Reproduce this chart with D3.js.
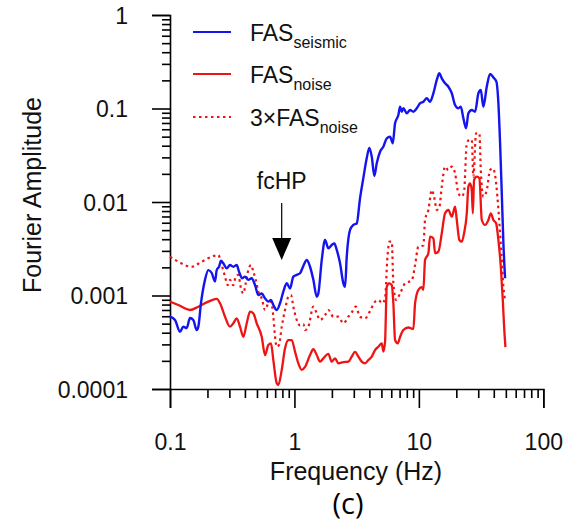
<!DOCTYPE html>
<html>
<head>
<meta charset="utf-8">
<script src="https://cdn.jsdelivr.net/npm/d3@7"></script>
<style>
  html, body { margin: 0; padding: 0; background: #fff; }
  svg { display: block; }
</style>
</head>
<body>
<svg id="chart" width="565" height="523"></svg>
<script>
// ---------- DATA (frequency Hz, Fourier amplitude) ----------
const seismic = [
  [0.1,5.93e-4],[0.1097,5.47e-4],[0.1203,4.10e-4],[0.1279,4.64e-4],[0.1362,4.49e-4],[0.1448,5.74e-4],
  [0.1539,5.47e-4],[0.1639,4.27e-4],[0.1689,4.64e-4],[0.1775,8.32e-4],[0.1911,1.47e-3],[0.2032,1.87e-3],
  [0.2164,1.74e-3],[0.2300,1.41e-3],[0.2374,1.87e-3],[0.2477,2.03e-3],[0.2570,2.36e-3],[0.2682,2.21e-3],
  [0.2856,1.95e-3],[0.3036,2.12e-3],[0.3227,2.03e-3],[0.3437,2.12e-3],[0.3586,1.80e-3],[0.3812,1.53e-3],
  [0.4007,1.59e-3],[0.4259,1.47e-3],[0.4537,1.53e-3],[0.4823,1.29e-3],[0.5126,1.01e-3],[0.5459,1.05e-3],
  [0.5803,9.33e-4],[0.6169,8.59e-4],[0.6484,8.95e-4],[0.6767,7.91e-4],[0.7205,7.00e-4],[0.7658,8.26e-4],
  [0.8142,1.10e-3],[0.8674,1.35e-3],[0.9219,1.19e-3],[0.9799,1.59e-3],[1.0435,1.66e-3],[1.109,1.73e-3],
  [1.179,2.07e-3],[1.256,2.40e-3],[1.335,2.03e-3],[1.419,1.47e-3],[1.511,9.71e-4],[1.556,1.05e-3],
  [1.658,2.40e-3],[1.762,3.92e-3],[1.873,3.20e-3],[1.994,3.47e-3],[2.093,3.61e-3],[2.188,3.07e-3],
  [2.326,2.21e-3],[2.473,1.35e-3],[2.552,1.24e-3],[2.633,2.60e-3],[2.799,5.02e-3],[2.975,5.68e-3],
  [3.169,5.92e-3],[3.368,1.10e-2],[3.580,1.81e-2],[3.813,2.96e-2],[4.001,3.78e-2],[4.183,3.05e-2],
  [4.388,1.90e-2],[4.587,2.59e-2],[4.876,3.45e-2],[5.182,3.90e-2],[5.520,4.80e-2],[5.867,4.99e-2],
  [6.168,4.25e-2],[6.437,6.95e-2],[6.842,8.52e-2],[7.061,1.045e-1],[7.286,9.24e-2],[7.506,1.005e-1],
  [7.992,8.88e-2],[8.500,9.64e-2],[9.033,9.24e-2],[9.619,1.005e-1],[10.22,1.137e-1],[10.87,1.183e-1],
  [11.57,1.286e-1],[12.30,1.183e-1],[13.08,1.455e-1],[13.93,2.02e-1],[14.62,2.38e-1],[15.28,2.10e-1],
  [16.24,1.86e-1],[17.27,1.71e-1],[18.39,1.455e-1],[19.54,1.090e-1],[20.77,1.005e-1],[21.72,1.045e-1],
  [22.79,7.85e-2],[23.96,6.14e-2],[25.00,8.88e-2],[26.62,9.64e-2],[28.30,9.24e-2],[30.09,1.455e-1],
  [31.45,1.578e-1],[32.99,1.045e-1],[35.13,1.71e-1],[37.35,2.34e-1],[39.71,2.15e-1],[41.98,1.935e-1],
  [43.56,1.137e-1],[44.95,4.25e-2],[46.38,1.24e-2],[47.79,3.61e-3],[49.31,1.53e-3]
];

const noise = [
  [0.1,8.59e-4],[0.1166,7.91e-4],[0.1448,7.00e-4],[0.1689,7.59e-4],[0.2032,8.59e-4],[0.2374,9.18e-4],
  [0.2523,8.26e-4],[0.2768,5.93e-4],[0.3036,4.64e-4],[0.3227,5.04e-4],[0.3437,5.70e-4],[0.3653,4.64e-4],
  [0.3884,3.62e-4],[0.4137,5.04e-4],[0.4397,6.71e-4],[0.4674,6.45e-4],[0.4977,5.04e-4],[0.5459,3.62e-4],
  [0.5803,2.31e-4],[0.6169,2.96e-4],[0.6484,3.08e-4],[0.6767,2.04e-4],[0.7205,1.15e-4],[0.7422,1.10e-4],
  [0.7908,1.60e-4],[0.8403,2.72e-4],[0.8933,3.34e-4],[0.9513,3.34e-4],[1.011,2.51e-4],[1.075,1.88e-4],
  [1.145,1.60e-4],[1.217,1.72e-4],[1.335,2.31e-4],[1.419,2.66e-4],[1.511,2.31e-4],[1.606,1.96e-4],
  [1.707,2.13e-4],[1.873,2.37e-4],[1.994,1.96e-4],[2.121,2.13e-4],[2.254,1.88e-4],[2.473,1.94e-4],
  [2.712,1.96e-4],[2.887,2.22e-4],[3.069,2.49e-4],[3.265,2.22e-4],[3.475,1.96e-4],[3.694,1.88e-4],
  [3.926,2.04e-4],[4.183,2.22e-4],[4.445,2.61e-4],[4.726,2.83e-4],[5.033,3.08e-4],[5.182,2.51e-4],
  [5.350,3.21e-4],[5.520,1.24e-3],[5.761,1.35e-3],[6.056,1.29e-3],[6.237,8.26e-4],[6.437,3.34e-4],
  [6.767,3.08e-4],[7.061,3.60e-4],[7.506,4.27e-4],[8.237,4.55e-4],[9.033,4.38e-4],[9.324,8.26e-4],
  [9.908,1.15e-3],[10.55,1.23e-3],[10.87,1.15e-3],[11.21,2.40e-3],[11.92,2.83e-3],[12.30,4.26e-3],
  [13.08,4.09e-3],[13.50,2.83e-3],[14.35,2.94e-3],[15.28,4.63e-3],[16.24,7.57e-3],[17.27,8.21e-3],
  [18.39,6.96e-3],[19.54,8.91e-3],[20.17,6.42e-3],[21.17,3.92e-3],[22.13,3.76e-3],[23.08,4.63e-3],
  [24.27,7.57e-3],[25.00,1.46e-2],[25.80,1.585e-2],[26.62,1.34e-2],[27.13,7.57e-3],[27.78,1.72e-2],
  [29.21,1.87e-2],[30.65,1.79e-2],[32.04,6.42e-3],[34.05,5.68e-3],[36.21,6.42e-3],[37.84,7.57e-3],
  [39.71,6.42e-3],[41.75,5.92e-3],[43.56,3.92e-3],[45.54,2.03e-3],[47.26,8.95e-4],[48.42,4.64e-4],
  [49.60,2.81e-4]
];

const noise3 = [
  [0.1,2.60e-3],[0.1166,2.30e-3],[0.1494,2.03e-3],[0.1798,2.30e-3],[0.2229,2.64e-3],[0.2444,2.71e-3],
  [0.2603,2.12e-3],[0.2768,1.59e-3],[0.2910,1.29e-3],[0.3036,1.47e-3],[0.3227,1.29e-3],[0.3375,1.59e-3],
  [0.3540,1.66e-3],[0.3721,1.19e-3],[0.3884,1.05e-3],[0.4060,1.35e-3],[0.4259,1.87e-3],[0.4479,2.12e-3],
  [0.4674,1.80e-3],[0.4886,1.47e-3],[0.5126,1.10e-3],[0.5459,9.33e-4],[0.5803,7.00e-4],[0.6169,8.26e-4],
  [0.6484,8.59e-4],[0.6767,5.93e-4],[0.6985,3.62e-4],[0.7205,2.83e-4],[0.7518,2.96e-4],[0.7908,4.64e-4],
  [0.8403,7.00e-4],[0.8933,9.71e-4],[0.9389,1.01e-3],[0.9799,7.59e-4],[1.0435,5.47e-4],[1.109,4.78e-4],
  [1.179,4.96e-4],[1.217,4.27e-4],[1.294,4.64e-4],[1.419,7.59e-4],[1.511,6.45e-4],[1.606,5.47e-4],
  [1.762,6.18e-4],[1.873,7.00e-4],[2.055,5.93e-4],[2.254,5.93e-4],[2.473,5.04e-4],[2.712,5.93e-4],
  [2.887,6.58e-4],[3.110,7.59e-4],[3.368,5.93e-4],[3.694,5.70e-4],[4.052,6.83e-4],[4.445,8.59e-4],
  [4.726,8.95e-4],[5.089,8.26e-4],[5.350,9.40e-4],[5.602,2.71e-3],[5.814,3.76e-3],[6.056,3.76e-3],
  [6.237,1.35e-3],[6.559,8.95e-4],[7.061,1.05e-3],[7.748,1.35e-3],[8.770,1.45e-3],[9.324,2.12e-3],
  [9.908,3.33e-3],[10.87,3.43e-3],[11.21,6.42e-3],[11.92,8.21e-3],[12.70,1.34e-2],[13.25,1.14e-2],
  [13.93,8.21e-3],[14.62,8.91e-3],[15.28,1.46e-2],[16.24,2.39e-2],[17.27,2.20e-2],[18.39,2.39e-2],
  [19.54,2.03e-2],[20.77,1.24e-2],[22.13,1.14e-2],[23.08,1.29e-2],[24.27,4.25e-2],[25.47,4.61e-2],
  [26.62,4.61e-2],[27.42,1.87e-2],[28.83,5.43e-2],[30.65,5.43e-2],[31.45,2.20e-2],[32.99,1.14e-2],
  [35.13,1.34e-2],[37.35,2.20e-2],[39.26,2.29e-2],[40.98,1.94e-2],[42.76,1.14e-2],[44.37,5.92e-3],
  [46.05,2.83e-3],[47.79,1.24e-3],[49.31,8.95e-4]
];

const xMajorTicks = [0.1, 1, 10, 100];
const xTickLabels = ["0.1", "1", "10", "100"];
const yMajorTicks = [0.0001, 0.001, 0.01, 0.1, 1];
const yTickLabels = ["0.0001", "0.001", "0.01", "0.1", "1"];
const legendLabels = [
  { main: "FAS", sub: "seismic" },
  { main: "FAS", sub: "noise" },
  { main: "3\u00d7FAS", sub: "noise" }
];
const annotation = { text: "fcHP", freq: 0.79 };

// ---------- DRAWING ----------
const FONT = "'Liberation Sans', Arial, Helvetica, sans-serif";
const BLUE = "#1414f0";
const RED = "#ee1414";

const svg = d3.select("#chart");
const x = d3.scaleLog().domain([0.1, 100]).range([170, 543.3]);
const y = d3.scaleLog().domain([1e-4, 1]).range([389, 15]);

function minorTicks(lo, hi) {
  const out = [];
  for (let e = Math.log10(lo); e < Math.log10(hi); e++) {
    for (let k = 1; k < 10; k++) out.push(k * Math.pow(10, e));
  }
  out.push(hi);
  return out;
}
const isMajor = v => Math.abs(Math.log10(v) - Math.round(Math.log10(v))) < 1e-9;

// X axis
const xVals = minorTicks(0.1, 100);
const gx = svg.append("g").attr("transform", "translate(0,389)")
  .call(d3.axisBottom(x).tickValues(xVals).tickSizeOuter(0).tickSize(19)
    .tickFormat(v => isMajor(v) ? xTickLabels[xMajorTicks.findIndex(t => Math.abs(t - v) < 1e-9)] : ""));
gx.select(".domain").attr("stroke", "#000").attr("stroke-width", 1.6);
gx.selectAll(".tick line").attr("stroke", "#000").attr("stroke-width", 1.6)
  .attr("y2", d => isMajor(d) ? 19 : 9);
gx.selectAll(".tick text").attr("y", 61).attr("dy", "0")
  .attr("font-family", FONT).attr("font-size", 23).attr("fill", "#111");

// Y axis
const yVals = minorTicks(1e-4, 1);
const gy = svg.append("g").attr("transform", "translate(170,0)")
  .call(d3.axisLeft(y).tickValues(yVals).tickSizeOuter(0).tickSize(18)
    .tickFormat(v => isMajor(v) ? yTickLabels[yMajorTicks.findIndex(t => Math.abs(Math.log10(t) - Math.log10(v)) < 1e-9)] : ""));
gy.select(".domain").attr("stroke", "#000").attr("stroke-width", 1.6);
gy.selectAll(".tick line").attr("stroke", "#000").attr("stroke-width", 1.6)
  .attr("x2", d => isMajor(d) ? -18 : -8);
gy.selectAll(".tick text").attr("x", -42).attr("dy", "0.36em")
  .attr("font-family", FONT).attr("font-size", 23).attr("fill", "#111");

// Axis titles
svg.append("text").attr("x", 356).attr("y", 480).attr("text-anchor", "middle")
  .attr("font-family", FONT).attr("font-size", 25).attr("fill", "#111").text("Frequency (Hz)");
svg.append("text").attr("transform", "translate(41,195) rotate(-90)").attr("text-anchor", "middle")
  .attr("font-family", FONT).attr("font-size", 25).attr("fill", "#111").text("Fourier Amplitude");
svg.append("text").attr("x", 348).attr("y", 514).attr("text-anchor", "middle")
  .attr("font-family", "'Open Sans', sans-serif").attr("font-size", 29).attr("font-weight", 500)
  .attr("fill", "#000").text("(c)");

// Lines
const line = d3.line().x(d => x(d[0])).y(d => y(d[1])).curve(d3.curveMonotoneX);
svg.append("path").datum(noise3).attr("d", line).attr("fill", "none")
  .attr("stroke", RED).attr("stroke-width", 2.2).attr("stroke-dasharray", "2.5,3.5");
svg.append("path").datum(noise).attr("d", line).attr("fill", "none")
  .attr("stroke", RED).attr("stroke-width", 2.3).attr("stroke-linejoin", "round");
svg.append("path").datum(seismic).attr("d", line).attr("fill", "none")
  .attr("stroke", BLUE).attr("stroke-width", 2.4).attr("stroke-linejoin", "round");

// Legend
const legY = [32, 74, 117];
const legStyles = [
  { color: BLUE, dash: null },
  { color: RED, dash: null },
  { color: RED, dash: "2.5,3.5" }
];
legendLabels.forEach((L, i) => {
  svg.append("line").attr("x1", 193).attr("x2", 231).attr("y1", legY[i]).attr("y2", legY[i])
    .attr("stroke", legStyles[i].color).attr("stroke-width", 2)
    .attr("stroke-dasharray", legStyles[i].dash);
  const t = svg.append("text").attr("x", 250).attr("y", legY[i] + 9)
    .attr("font-family", FONT).attr("font-size", 23).attr("fill", "#111");
  t.append("tspan").text(L.main);
  t.append("tspan").attr("dy", 7).attr("font-size", 16).text(L.sub);
});

// fcHP annotation
const ax = x(annotation.freq);
svg.append("text").attr("x", ax).attr("y", 189).attr("text-anchor", "middle")
  .attr("font-family", FONT).attr("font-size", 23).attr("fill", "#111").text(annotation.text);
svg.append("line").attr("x1", ax).attr("x2", ax).attr("y1", 203).attr("y2", 240)
  .attr("stroke", "#000").attr("stroke-width", 1.2);
svg.append("path").attr("d", `M${ax - 9.5},238 L${ax + 9.5},238 L${ax},260 Z`).attr("fill", "#000");
</script>
</body>
</html>
